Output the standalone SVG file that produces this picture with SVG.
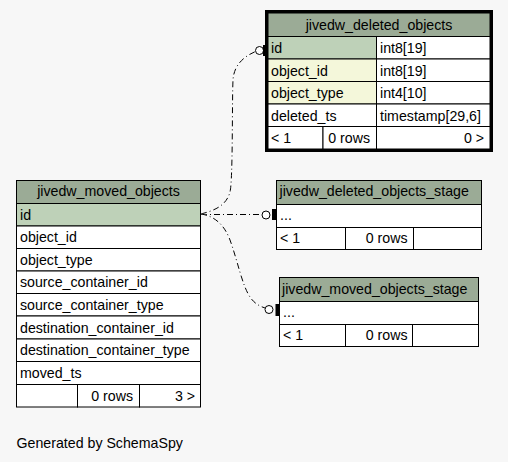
<svg xmlns="http://www.w3.org/2000/svg" width="508" height="462" viewBox="0 0 508 462">
<style>
text{font-family:"Liberation Sans",Arial,Helvetica,sans-serif;font-size:14.2px;fill:#000}
.hd{fill:#9bab96;stroke:#000;stroke-width:1}
.c{fill:#fff;stroke:#000;stroke-width:1}
.pk{fill:#bed1b8;stroke:#000;stroke-width:1}
.ix{fill:#f4f7da;stroke:#000;stroke-width:1}
.mid{text-anchor:middle}
.end{text-anchor:end}
.under{fill:none;stroke:#fff;stroke-width:1}
.dash{fill:none;stroke:#000;stroke-width:1;stroke-dasharray:6,3,1,3}
.circ{fill:#fff;stroke:#000;stroke-width:1}
</style>
<rect x="0" y="0" width="508" height="462" fill="#f7f7f7"/>

<g id="connectors">
<path class="under" d="M201,214 C212,211 226,207 230,192 C233,180 232,100 233,80 C234,64 245,56 255.5,51.5"/>
<path class="dash" d="M201,214 C212,211 226,207 230,192 C233,180 232,100 233,80 C234,64 245,56 255.5,51.5"/>
<circle class="circ" cx="259.5" cy="50.5" r="4"/>
<rect x="263" y="45" width="2" height="11" fill="#000"/>

<path class="dash" d="M201,214.5 L262,214.5"/>
<circle class="circ" cx="266" cy="215" r="4"/>
<rect x="272" y="209" width="4" height="11" fill="#000"/>

<path class="under" d="M201,214 C214,216 224,224 230,240 C238,262 242,285 250,297 C254,303 259,306 265,308"/>
<path class="dash" d="M201,214 C214,216 224,224 230,240 C238,262 242,285 250,297 C254,303 259,306 265,308"/>
<circle class="circ" cx="269" cy="309.5" r="4"/>
<rect x="275.5" y="304" width="4" height="12" fill="#000"/>
</g>

<g id="jivedw_deleted_objects">
<rect class="hd" x="268" y="13" width="222" height="23.5"/>
<rect class="pk" x="268" y="36.5" width="108.5" height="22.5"/>
<rect class="c" x="376.5" y="36.5" width="113.5" height="22.5"/>
<rect class="ix" x="268" y="59" width="108.5" height="22.5"/>
<rect class="c" x="376.5" y="59" width="113.5" height="22.5"/>
<rect class="ix" x="268" y="81.5" width="108.5" height="22.5"/>
<rect class="c" x="376.5" y="81.5" width="113.5" height="22.5"/>
<rect class="c" x="268" y="104" width="108.5" height="22.5"/>
<rect class="c" x="376.5" y="104" width="113.5" height="22.5"/>
<rect class="c" x="268" y="126.5" width="55" height="22.5"/>
<rect class="c" x="323" y="126.5" width="53.5" height="22.5"/>
<rect class="c" x="376.5" y="126.5" width="113.5" height="22.5"/>
<rect x="266.5" y="11.5" width="225" height="139" fill="none" stroke="#000" stroke-width="3"/>
<text class="mid" x="379" y="30">jivedw_deleted_objects</text>
<text x="271" y="53">id</text>
<text x="380" y="53">int8[19]</text>
<text x="271" y="75.5">object_id</text>
<text x="380" y="75.5">int8[19]</text>
<text x="271" y="98">object_type</text>
<text x="380" y="98">int4[10]</text>
<text x="271" y="120.5">deleted_ts</text>
<text x="380" y="120.5">timestamp[29,6]</text>
<text x="271" y="143">&lt; 1</text>
<text class="end" x="370" y="143">0 rows</text>
<text class="end" x="484" y="143">0 &gt;</text>
</g>

<g id="jivedw_moved_objects">
<rect class="hd" x="16.5" y="180.5" width="184" height="23"/>
<rect class="pk" x="16.5" y="203.5" width="184" height="22.5"/>
<rect class="c" x="16.5" y="226" width="184" height="22.5"/>
<rect class="c" x="16.5" y="248.5" width="184" height="22.5"/>
<rect class="c" x="16.5" y="271" width="184" height="22.5"/>
<rect class="c" x="16.5" y="293.5" width="184" height="22.5"/>
<rect class="c" x="16.5" y="316" width="184" height="23"/>
<rect class="c" x="16.5" y="339" width="184" height="22.5"/>
<rect class="c" x="16.5" y="361.5" width="184" height="23"/>
<rect class="c" x="16.5" y="384.5" width="61" height="22.5"/>
<rect class="c" x="77.5" y="384.5" width="62" height="22.5"/>
<rect class="c" x="139.5" y="384.5" width="61" height="22.5"/>
<text class="mid" x="108.5" y="196">jivedw_moved_objects</text>
<text x="20" y="219.5">id</text>
<text x="20" y="242">object_id</text>
<text x="20" y="264.5">object_type</text>
<text x="20" y="287">source_container_id</text>
<text x="20" y="309.5">source_container_type</text>
<text x="20" y="332.5">destination_container_id</text>
<text x="20" y="355">destination_container_type</text>
<text x="20" y="377.5">moved_ts</text>
<text class="end" x="133" y="400.5">0 rows</text>
<text class="end" x="195" y="400.5">3 &gt;</text>
</g>

<g id="jivedw_deleted_objects_stage">
<rect class="hd" x="276.5" y="180.5" width="205" height="24"/>
<rect class="c" x="276.5" y="204.5" width="205" height="23"/>
<rect class="c" x="276.5" y="227.5" width="69" height="22"/>
<rect class="c" x="345.5" y="227.5" width="68" height="22"/>
<rect class="c" x="413.5" y="227.5" width="68" height="22"/>
<text x="279.5" y="196">jivedw_deleted_objects_stage</text>
<text x="280" y="220">...</text>
<text x="280" y="243">&lt; 1</text>
<text class="end" x="407.5" y="243">0 rows</text>
</g>

<g id="jivedw_moved_objects_stage">
<rect class="hd" x="279.5" y="277.5" width="199" height="24"/>
<rect class="c" x="279.5" y="301.5" width="199" height="23"/>
<rect class="c" x="279.5" y="324.5" width="66" height="22"/>
<rect class="c" x="345.5" y="324.5" width="67" height="22"/>
<rect class="c" x="412.5" y="324.5" width="66" height="22"/>
<text x="282" y="294">jivedw_moved_objects_stage</text>
<text x="283" y="317">...</text>
<text x="283" y="340">&lt; 1</text>
<text class="end" x="407.5" y="340">0 rows</text>
</g>

<text x="16.5" y="448">Generated by SchemaSpy</text>
</svg>
